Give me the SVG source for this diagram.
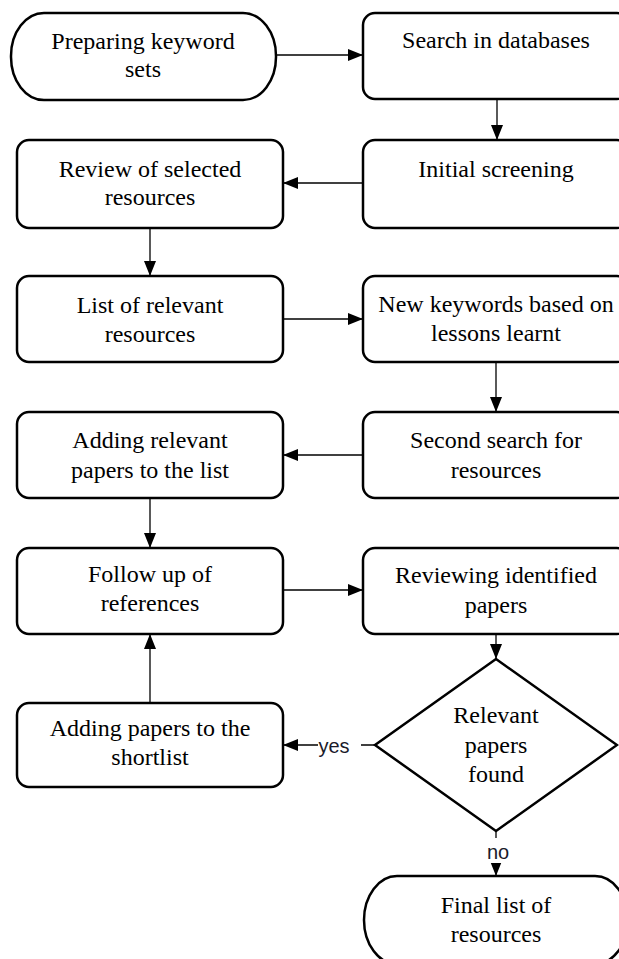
<svg xmlns="http://www.w3.org/2000/svg" width="619" height="959" viewBox="0 0 619 959">
<defs>
<marker id="arr" markerUnits="userSpaceOnUse" markerWidth="15" markerHeight="12" refX="15" refY="6" orient="auto">
<path d="M0,0 L15,6 L0,12 z" fill="#000"/>
</marker>
<style>
.box{fill:#fff;stroke:#000;stroke-width:2.5}
.t{font-family:'Liberation Serif','Tinos','Times New Roman','DejaVu Serif',serif;font-size:24px;fill:#000;text-anchor:middle}
.c{fill:none;stroke:#000;stroke-width:1.3;marker-end:url(#arr)}
.lbl{font-family:'Liberation Sans',Arial,sans-serif;font-size:20px;fill:#1a1a2a;text-anchor:middle}
</style>
</defs>
<rect width="619" height="959" fill="#fff"/>
<g id="connectors">
<line class="c" x1="276" y1="55" x2="363" y2="55"/>
<line class="c" x1="497" y1="99" x2="497" y2="140"/>
<line class="c" x1="363" y1="183" x2="283" y2="183"/>
<line class="c" x1="150" y1="228" x2="150" y2="276"/>
<line class="c" x1="283" y1="319" x2="363" y2="319"/>
<line class="c" x1="496" y1="362" x2="496" y2="412"/>
<line class="c" x1="363" y1="455" x2="283" y2="455"/>
<line class="c" x1="150" y1="498" x2="150" y2="548"/>
<line class="c" x1="283" y1="590" x2="363" y2="590"/>
<line class="c" x1="496" y1="634" x2="496" y2="659"/>
<line class="c" x1="375" y1="745" x2="283" y2="745"/>
<line class="c" x1="150" y1="703" x2="150" y2="634"/>
<line class="c" x1="496" y1="831" x2="496" y2="876"/>
<rect x="318" y="733" width="43" height="24" fill="#fff"/>
<text class="lbl" x="334" y="753">yes</text>
<rect x="483" y="838" width="35" height="25" fill="#fff"/>
<text class="lbl" x="498" y="859">no</text>
</g>
<g id="n1">
<rect class="box" x="11" y="13" width="265" height="87" rx="33" ry="43"/>
<text class="t" x="143" y="49">Preparing keyword</text>
<text class="t" x="143" y="77">sets</text>
</g>
<g id="n2">
<rect class="box" x="363" y="13" width="266" height="86" rx="12"/>
<text class="t" x="496" y="48">Search in databases</text>
</g>
<g id="n3">
<rect class="box" x="363" y="140" width="266" height="88" rx="12"/>
<text class="t" x="496" y="177">Initial screening</text>
</g>
<g id="n4">
<rect class="box" x="17" y="140" width="266" height="88" rx="12"/>
<text class="t" x="150" y="177">Review of selected</text>
<text class="t" x="150" y="205">resources</text>
</g>
<g id="n5">
<rect class="box" x="17" y="276" width="266" height="86" rx="12"/>
<text class="t" x="150" y="313">List of relevant</text>
<text class="t" x="150" y="342">resources</text>
</g>
<g id="n6">
<rect class="box" x="363" y="276" width="266" height="86" rx="12"/>
<text class="t" x="496" y="312">New keywords based on</text>
<text class="t" x="496" y="341">lessons learnt</text>
</g>
<g id="n7">
<rect class="box" x="363" y="412" width="266" height="86" rx="12"/>
<text class="t" x="496" y="448">Second search for</text>
<text class="t" x="496" y="478">resources</text>
</g>
<g id="n8">
<rect class="box" x="17" y="412" width="266" height="86" rx="12"/>
<text class="t" x="150" y="448">Adding relevant</text>
<text class="t" x="150" y="478">papers to the list</text>
</g>
<g id="n9">
<rect class="box" x="17" y="548" width="266" height="86" rx="12"/>
<text class="t" x="150" y="582">Follow up of</text>
<text class="t" x="150" y="611">references</text>
</g>
<g id="n10">
<rect class="box" x="363" y="548" width="266" height="86" rx="12"/>
<text class="t" x="496" y="583">Reviewing identified</text>
<text class="t" x="496" y="613">papers</text>
</g>
<g id="n11">
<polygon class="box" points="496,659 617,745 496,831 375,745"/>
<text class="t" x="496" y="723">Relevant</text>
<text class="t" x="496" y="753">papers</text>
<text class="t" x="496" y="782">found</text>
</g>
<g id="n12">
<rect class="box" x="17" y="703" width="266" height="84" rx="12"/>
<text class="t" x="150" y="736">Adding papers to the</text>
<text class="t" x="150" y="765">shortlist</text>
</g>
<g id="n13">
<rect class="box" x="364" y="876" width="264" height="88" rx="33" ry="44"/>
<text class="t" x="496" y="913">Final list of</text>
<text class="t" x="496" y="942">resources</text>
</g>
</svg>
